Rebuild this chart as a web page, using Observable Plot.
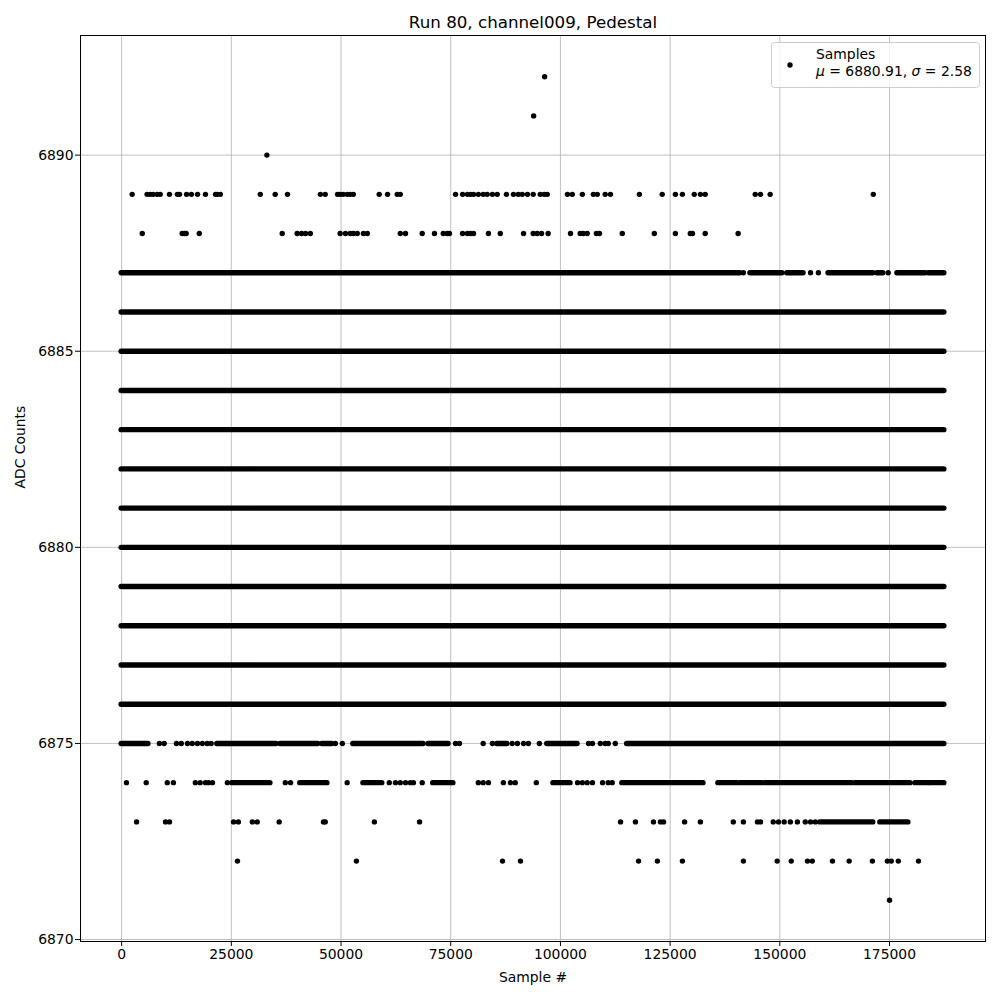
<!DOCTYPE html>
<html>
<head>
<meta charset="utf-8">
<script src="https://cdn.jsdelivr.net/npm/d3@7"></script>
<script src="https://cdn.jsdelivr.net/npm/@observablehq/plot@0.6"></script>
<style>
  html, body { margin: 0; padding: 0; background: #fff; }
  #chart { width: 1000px; height: 1000px; }
</style>
</head>
<body>
<div id="chart"></div>
<script>
// ---- Data ----
const titleText = "Run 80, channel009, Pedestal";
const xLabel = "Sample #";
const yLabel = "ADC Counts";
const seriesName = "Samples";
const meanVal = "6880.91";
const sigmaVal = "2.58";
const xTicks = [0, 25000, 50000, 75000, 100000, 125000, 150000, 175000];
const yTicks = [6870, 6875, 6880, 6885, 6890];

// ADC levels that are sampled continuously over the whole run
const fullLevels = [6876, 6877, 6878, 6879, 6880, 6881, 6882, 6883, 6884, 6885, 6886];
const fullSpan = [0, 187500];

// Runs of densely packed samples [first sample, last sample] per level
const runs6887 = [[0,141000],[143300,150600],[151700,155400],[161100,171300],[172200,173600],[176800,183200],[183900,187500]];
const runs6875 = [[0,6100],[21800,35300],[36200,44800],[45700,48000],[52800,68800],[69900,74500],[85600,87900],[97000,103900],[115200,187500]];
const runs6874 = [[25200,33900],[40700,46900],[55100,59400],[71000,75600],[98400,102300],[114100,132600],[136000,140300],[141000,146000],[146700,166500],[167200,179800],[180900,183900],[184300,187500]];
const runs6873 = [[159200,171300],[172900,179300]];

// Isolated samples (sample #) per level
const pts6892 = [96400];
const pts6891 = [93900];
const pts6890 = [33100];
const pts6889 = [2400,5800,6500,7200,8100,8800,10900,12700,13200,14800,15900,17300,19100,21400,21800,22500,31600,35000,37800,45300,46400,49200,49800,50500,51400,52100,52800,58700,60600,62800,63500,76100,77700,78800,79500,80200,81300,82400,83300,84500,85600,87700,89300,90400,91300,92500,93800,95400,96300,97000,101600,102700,105000,107500,108400,110200,111400,118000,123200,126200,127800,130500,131900,133000,144400,145600,147800,171300];
const pts6888 = [4700,13800,14300,14700,17700,36600,40000,41000,41900,43000,49800,51000,52100,52800,53700,55100,56000,63500,64700,68500,71300,73300,74200,74700,77700,78800,79500,80200,83600,86300,91600,93800,94700,95700,97200,102300,104500,105200,106100,108200,108900,114100,121400,126200,129600,130100,133000,140500];
const pts6887 = [141700,157000,158800,174700];
const pts6875 = [8600,9700,12500,13600,15000,16100,17300,18400,19500,20400,48700,50300,76100,77000,82400,84500,89000,90200,91600,92700,95200,106400,107300,109100,110200,110900,112500];
const pts6874 = [1100,5600,10400,11800,16800,17900,19100,19800,20700,24100,37300,38500,51400,61000,62400,63500,64700,65800,66500,68500,81300,82400,83600,87000,88600,89700,94500,103900,105000,106100,107300,109600,110900,111800];
const pts6873 = [3400,10000,10900,25500,26600,29800,30900,35900,46000,46400,57600,67900,113700,117100,121200,122800,123500,128300,131900,139400,141700,144900,145600,148500,149700,151000,152400,154000,155800,157000,158100];
const pts6872 = [26400,53500,86800,90900,117800,122100,127800,141700,149400,152600,156300,157400,162000,165800,171100,174500,175400,177000,181600];
const pts6871 = [175000];

// ---- Build tables ----
const segments = [];
fullLevels.forEach(y => segments.push({y, x1: fullSpan[0], x2: fullSpan[1]}));
[[6887, runs6887], [6875, runs6875], [6874, runs6874], [6873, runs6873]].forEach(([y, runs]) =>
  runs.forEach(([a, b]) => segments.push({y, x1: a, x2: b})));

const points = [];
[[6892, pts6892], [6891, pts6891], [6890, pts6890], [6889, pts6889], [6888, pts6888], [6887, pts6887],
 [6875, pts6875], [6874, pts6874], [6873, pts6873], [6872, pts6872], [6871, pts6871]].forEach(([y, xs]) =>
  xs.forEach(x => points.push({x, y})));

const allX = [...segments.flatMap(d => [d.x1, d.x2]), ...points.map(d => d.x)];
const allY = [...segments.map(d => d.y), ...points.map(d => d.y)];
const [xmin, xmax] = d3.extent(allX);
const [ymin, ymax] = d3.extent(allY);
const xpad = (xmax - xmin) * 0.05, ypad = (ymax - ymin) * 0.05;

const FONT = "DejaVu Sans";
const dotR = 2.7;

const chart = Plot.plot({
  width: 1000,
  height: 1000,
  marginTop: 35,
  marginBottom: 59,
  marginLeft: 80,
  marginRight: 15,
  style: { fontFamily: FONT, fontSize: "13.9px", color: "black", background: "white" },
  x: { domain: [xmin - xpad, xmax + xpad] },
  y: { domain: [ymin - ypad, ymax + ypad] },
  marks: [
    Plot.gridX(xTicks, { stroke: "#b0b0b0", strokeOpacity: 1, strokeWidth: 0.8 }),
    Plot.gridY(yTicks, { stroke: "#b0b0b0", strokeOpacity: 1, strokeWidth: 0.8 }),
    Plot.ruleY(segments, { y: "y", x1: "x1", x2: "x2", stroke: "black", strokeWidth: dotR * 2, strokeLinecap: "round" }),
    Plot.dot(points, { x: "x", y: "y", r: dotR, fill: "black", stroke: "none" }),
    Plot.axisX(xTicks, { tickSize: 5, tickPadding: 3, fontSize: 13.9, label: null, tickFormat: d => String(d) }),
    Plot.axisY(yTicks, { tickSize: 5, tickPadding: 2, fontSize: 13.9, label: null, tickFormat: d => String(d) }),
    Plot.frame({ stroke: "black", strokeWidth: 1 }),
    Plot.text([titleText], { text: d => d, frameAnchor: "top", lineAnchor: "middle", dy: -13, fontSize: 16.7, fill: "black" }),
    Plot.text([xLabel], { text: d => d, frameAnchor: "bottom", lineAnchor: "middle", dy: 36, fontSize: 13.9, fill: "black" }),
    Plot.text([yLabel], { text: d => d, frameAnchor: "left", lineAnchor: "middle", dx: -60, rotate: -90, fontSize: 13.9, fill: "black" })
  ]
});

document.getElementById("chart").appendChild(chart);

// ---- Legend (upper right, matplotlib style) ----
const svg = d3.select(chart);
const lg = svg.append("g").attr("font-family", FONT).attr("font-size", "13.9px").attr("text-anchor", "start");
lg.append("rect").attr("x", 771.5).attr("y", 42.5).attr("width", 208).attr("height", 45)
  .attr("rx", 3).attr("fill", "white").attr("fill-opacity", 0.8).attr("stroke", "#cccccc");
lg.append("circle").attr("cx", 790).attr("cy", 65).attr("r", dotR).attr("fill", "black");
lg.append("text").attr("x", 816).attr("y", 59).attr("fill", "black").attr("text-anchor", "start").text(seriesName);
const t2 = lg.append("text").attr("x", 816).attr("y", 76).attr("fill", "black").attr("text-anchor", "start");
t2.append("tspan").attr("font-style", "italic").text("\u03BC");
t2.append("tspan").text(" = " + meanVal + ", ");
t2.append("tspan").attr("font-style", "italic").text("\u03C3");
t2.append("tspan").text(" = " + sigmaVal);
</script>
</body>
</html>
